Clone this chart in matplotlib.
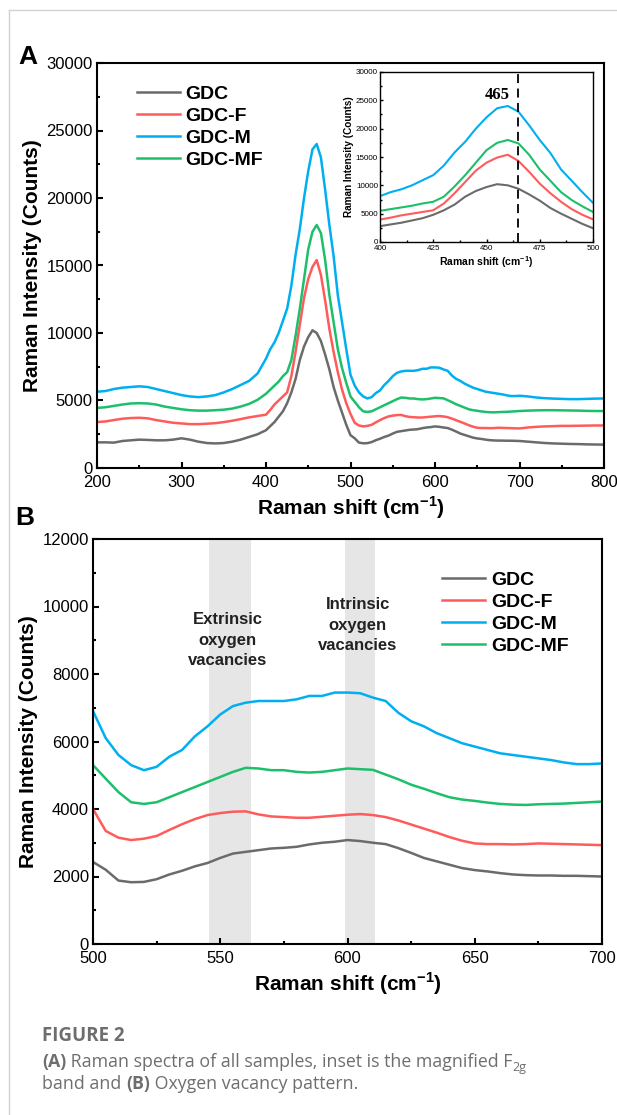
import numpy as np
import matplotlib
matplotlib.use('Agg')
import matplotlib.pyplot as plt
from matplotlib.lines import Line2D
from matplotlib.ticker import MultipleLocator

plt.rcParams['font.family'] = ['Liberation Sans', 'DejaVu Sans']
plt.rcParams['mathtext.fontset'] = 'custom'
plt.rcParams['mathtext.rm'] = 'Liberation Sans'
plt.rcParams['mathtext.bf'] = 'Liberation Sans:bold'

# Raman shift grid (cm-1)
shift = np.concatenate([np.arange(200, 401, 10), np.arange(405, 701, 5), np.arange(710, 801, 10)])

# intensities, in thousands of counts
gdc = [1.9, 1.9, 1.88, 2.0, 2.05, 2.1, 2.08, 2.05, 2.05, 2.1, 2.2, 2.1, 1.95, 1.85, 1.82, 1.85, 1.95, 2.1, 2.3, 2.5, 2.8,
       3.1, 3.4, 3.8, 4.2, 4.8, 5.6, 6.6, 8.0, 9.0, 9.7, 10.2, 10.0, 9.4, 8.4, 7.3, 6.0, 5.0, 4.1, 3.2, 2.43,
       2.2, 1.88, 1.83, 1.84, 1.92, 2.06, 2.17, 2.3, 2.4, 2.55, 2.68, 2.73, 2.78, 2.83, 2.85, 2.88, 2.95, 3.0, 3.03, 3.08,
       3.05, 3.0, 2.96, 2.84, 2.7, 2.55, 2.45, 2.35, 2.25, 2.19, 2.15, 2.1, 2.06, 2.04, 2.03, 2.03, 2.02, 2.02, 2.01, 2.0,
       1.95, 1.9, 1.85, 1.82, 1.8, 1.78, 1.77, 1.75, 1.74, 1.73]
gdc_f = [3.4, 3.45, 3.55, 3.65, 3.7, 3.72, 3.68, 3.55, 3.45, 3.35, 3.3, 3.25, 3.25, 3.28, 3.32, 3.4, 3.5, 3.62, 3.75, 3.85, 3.95,
         4.3, 4.7, 5.0, 5.3, 5.6, 6.8, 8.6, 10.6, 12.6, 14.0, 14.9, 15.4, 14.3, 12.4, 10.3, 8.6, 7.1, 5.8, 4.8, 4.0,
         3.35, 3.15, 3.08, 3.12, 3.2, 3.38, 3.55, 3.7, 3.82, 3.88, 3.92, 3.93, 3.84, 3.78, 3.76, 3.74, 3.74, 3.77, 3.8, 3.83,
         3.85, 3.82, 3.76, 3.66, 3.54, 3.42, 3.3, 3.17, 3.06, 2.98, 2.96, 2.96, 2.95, 2.96, 2.98, 2.97, 2.96, 2.95, 2.94, 2.93,
         3.0, 3.05, 3.08, 3.1, 3.12, 3.12, 3.13, 3.14, 3.15, 3.15]
gdc_m = [5.65, 5.7, 5.85, 5.95, 6.0, 6.05, 6.0, 5.85, 5.7, 5.55, 5.4, 5.3, 5.25, 5.3, 5.4, 5.6, 5.85, 6.15, 6.45, 7.0, 8.1,
         8.8, 9.3, 10.0, 10.9, 11.8, 13.5, 15.8, 17.7, 20.0, 22.0, 23.6, 24.0, 23.0, 20.6, 18.0, 15.7, 12.8, 10.8, 8.8, 6.9,
         6.1, 5.6, 5.3, 5.15, 5.25, 5.55, 5.75, 6.15, 6.45, 6.8, 7.05, 7.15, 7.2, 7.2, 7.2, 7.25, 7.35, 7.35, 7.45, 7.45,
         7.43, 7.3, 7.2, 6.85, 6.6, 6.45, 6.25, 6.1, 5.95, 5.85, 5.75, 5.65, 5.6, 5.55, 5.5, 5.45, 5.38, 5.33, 5.33, 5.35,
         5.3, 5.22, 5.17, 5.14, 5.12, 5.1, 5.1, 5.12, 5.14, 5.15]
gdc_mf = [4.45, 4.5, 4.6, 4.7, 4.78, 4.8, 4.78, 4.7, 4.55, 4.45, 4.35, 4.28, 4.25, 4.25, 4.28, 4.32, 4.4, 4.55, 4.75, 5.05, 5.5,
          5.8, 6.1, 6.4, 6.8, 7.1, 8.0, 9.8, 11.8, 14.0, 16.2, 17.5, 18.0, 17.4, 15.4, 12.8, 10.8, 8.8, 7.4, 6.3, 5.3,
          4.9, 4.5, 4.2, 4.15, 4.2, 4.35, 4.5, 4.65, 4.8, 4.95, 5.1, 5.22, 5.2, 5.15, 5.15, 5.1, 5.08, 5.1, 5.15, 5.2,
          5.18, 5.16, 5.02, 4.88, 4.72, 4.6, 4.47, 4.35, 4.28, 4.24, 4.19, 4.15, 4.13, 4.12, 4.14, 4.15, 4.16, 4.18, 4.2, 4.22,
          4.25, 4.27, 4.28, 4.28, 4.27, 4.26, 4.25, 4.23, 4.22, 4.22]

labels = ['GDC', 'GDC-F', 'GDC-M', 'GDC-MF']
colors = ['#6b6b6b', '#ff5b5b', '#00aff0', '#1dbf6b']
series = [gdc, gdc_f, gdc_m, gdc_mf]

bands = [(545.5, 562), (599, 611)]
band_text = ['Extrinsic\noxygen\nvacancies', 'Intrinsic\noxygen\nvacancies']
band_text_pos = [(553, 9000), (604, 9450)]

W, H = 617, 1115
fig = plt.figure(figsize=(W / 100, H / 100), dpi=100)

def box(l, t, r, b):
    return [l / W, 1 - b / H, (r - l) / W, (b - t) / H]

def style(ax, lw=1.5, size=12, major=4.5, minor=2.5):
    for s in ax.spines.values():
        s.set_linewidth(lw)
    ax.tick_params(which='both', direction='in', top=False, right=False, width=lw, labelsize=size, pad=3)
    ax.tick_params(which='major', length=major)
    ax.tick_params(which='minor', length=minor)
    ax.tick_params(axis='x', pad=5)

xlab = r'Raman shift (cm$^{\mathbf{-1}}$)'
ylab = 'Raman Intensity (Counts)'

# panel A
ax1 = fig.add_axes(box(97, 63, 604, 468))
for y, c, l in zip(series, colors, labels):
    ax1.plot(shift, np.array(y) * 1000, color=c, lw=1.8, label=l)
ax1.set_xlim(200, 800)
ax1.set_ylim(0, 30000)
ax1.xaxis.set_major_locator(MultipleLocator(100))
ax1.xaxis.set_minor_locator(MultipleLocator(50))
ax1.yaxis.set_major_locator(MultipleLocator(5000))
ax1.yaxis.set_minor_locator(MultipleLocator(2500))
style(ax1)
ax1.set_xlabel(xlab, fontsize=15, fontweight='bold', labelpad=3)
ax1.set_ylabel(ylab, fontsize=15, fontweight='bold', labelpad=3)
ax1.legend(loc='upper left', bbox_to_anchor=(0.079, 0.945), frameon=False, borderpad=0, borderaxespad=0,
           handlelength=2.2, handletextpad=0.3, labelspacing=0.22,
           prop={'size': 14, 'weight': 'bold'})
fig.text(18 / W, 1 - 57 / H, 'A', fontsize=19, fontweight='bold', va='center')

# inset
ax2 = fig.add_axes(box(380, 72, 593, 242))
for y, c in zip(series, colors):
    ax2.plot(shift, np.array(y) * 1000, color=c, lw=1.5)
ax2.axvline(465, color='black', lw=1.3, ls=(0, (5, 3)))
ax2.text(461, 26000, '465', family='Liberation Serif', fontweight='bold', fontsize=12, ha='right', va='center')
ax2.set_xlim(400, 500)
ax2.set_ylim(0, 30000)
ax2.xaxis.set_major_locator(MultipleLocator(25))
ax2.xaxis.set_minor_locator(MultipleLocator(12.5))
ax2.yaxis.set_major_locator(MultipleLocator(5000))
ax2.yaxis.set_minor_locator(MultipleLocator(2500))
style(ax2, lw=1.0, size=5.8, major=2.5, minor=1.5)
ax2.tick_params(pad=1.5)
ax2.tick_params(axis='x', pad=2.5)
ax2.set_xlabel(xlab, fontsize=7.5, fontweight='bold', labelpad=1)
ax2.set_ylabel(ylab, fontsize=7.2, fontweight='bold', labelpad=1)

# panel B
ax3 = fig.add_axes(box(93, 539, 602, 944))
for (a, b) in bands:
    ax3.axvspan(a, b, color='#e6e6e6', lw=0, zorder=0)
for y, c, l in zip(series, colors, labels):
    ax3.plot(shift, np.array(y) * 1000, color=c, lw=1.8, label=l)
for t, (tx, ty) in zip(band_text, band_text_pos):
    ax3.text(tx, ty, t, ha='center', va='center', fontsize=12, fontweight='bold', color='#222222', linespacing=1.45)
ax3.set_xlim(500, 700)
ax3.set_ylim(0, 12000)
ax3.xaxis.set_major_locator(MultipleLocator(50))
ax3.xaxis.set_minor_locator(MultipleLocator(25))
ax3.yaxis.set_major_locator(MultipleLocator(2000))
ax3.yaxis.set_minor_locator(MultipleLocator(1000))
style(ax3)
ax3.set_xlabel(xlab, fontsize=15, fontweight='bold', labelpad=3)
ax3.set_ylabel(ylab, fontsize=15, fontweight='bold', labelpad=3)
ax3.legend(loc='upper left', bbox_to_anchor=(0.686, 0.92), frameon=False, borderpad=0, borderaxespad=0,
           handlelength=2.2, handletextpad=0.3, labelspacing=0.22,
           prop={'size': 14, 'weight': 'bold'})
fig.text(15 / W, 1 - 518 / H, 'B', fontsize=19, fontweight='bold', va='center')

# page frame
fig.add_artist(Line2D([9 / W, 9 / W], [0, 1 - 10 / H], color='#d2d2d2', lw=1))
fig.add_artist(Line2D([9 / W, 1], [1 - 10 / H, 1 - 10 / H], color='#d2d2d2', lw=1))

# caption
cap_col = '#6e6e6e'
cap_font = ['Open Sans', 'Noto Sans', 'DejaVu Sans']
fig.text(42 / W, 1 - 1041 / H, 'FIGURE 2', family=cap_font, fontsize=13.5, fontweight='bold', color=cap_col, va='baseline')
r = fig.canvas.get_renderer()

def runs(x, y, parts, size=12.8):
    for s, w, dy, sz in parts:
        t = fig.text(x / W, 1 - (y + dy) / H, s, family=cap_font, fontsize=sz or size, fontweight=w,
                     color=cap_col, va='baseline')
        x += t.get_window_extent(r).width

runs(42, 1067, [('(A)', 'bold', 0, None), (' Raman spectra of all samples, inset is the magnified F', 'normal', 0, None),
                ('2g', 'normal', 4, 9)])
runs(42, 1089, [('band and ', 'normal', 0, None), ('(B)', 'bold', 0, None), (' Oxygen vacancy pattern.', 'normal', 0, None)])

fig.savefig('out.png', dpi=100)
